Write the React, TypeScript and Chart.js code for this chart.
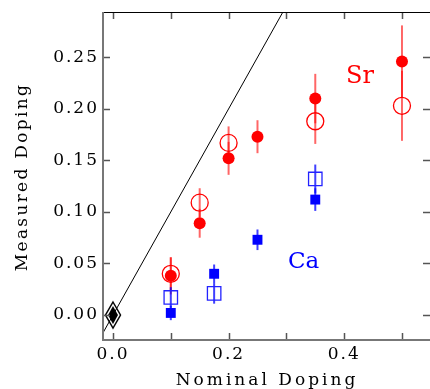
import React, { useEffect, useRef } from "react";
import { Chart, registerables } from "chart.js";

Chart.register(...registerables);

// ---- data ----
const srNominal = [0.1, 0.15, 0.2, 0.25, 0.35, 0.5];
const srFilled = [0.038, 0.089, 0.152, 0.173, 0.21, 0.246];
const srFilledErr = [0.018, 0.014, 0.016, 0.016, 0.024, 0.035];
const srOpenNominal = [0.1, 0.15, 0.2, 0.35, 0.5];
const srOpen = [0.04, 0.109, 0.167, 0.188, 0.203];
const srOpenErr = [0.016, 0.014, 0.016, 0.022, 0.034];

const caNominal = [0.1, 0.175, 0.25, 0.35];
const caFilled = [0.002, 0.04, 0.073, 0.112];
const caFilledErr = [0.007, 0.009, 0.01, 0.011];
const caOpenNominal = [0.1, 0.175, 0.35];
const caOpen = [0.017, 0.021, 0.132];
const caOpenErr = [0.01, 0.01, 0.014];

const refNominal = [0];
const refMeasured = [0];

const identityEnds = [-0.05, 0.4];

const xTickValues = [0, 0.1, 0.2, 0.3, 0.4, 0.5];
const xTickLabels = ["0.0", "", "0.2", "", "0.4", ""];
const yTickValues = [0, 0.05, 0.1, 0.15, 0.2, 0.25];
const yTickLabels = ["0.00", "0.05", "0.10", "0.15", "0.20", "0.25"];

const xTitle = "Nominal Doping";
const yTitle = "Measured Doping";
const srLabel = "Sr";
const caLabel = "Ca";

const SR = "#ff0000";
const CA = "#0000ff";
const FONT = "'DejaVu Serif', serif";

const pts = (xs: number[], ys: number[]) => xs.map((x, i) => ({ x, y: ys[i] }));

function makeDiamond(): HTMLCanvasElement {
  const c = document.createElement("canvas");
  c.width = 18;
  c.height = 30;
  const g = c.getContext("2d")!;
  const cx = 9, cy = 15;
  g.strokeStyle = "#000";
  g.lineWidth = 1.5;
  g.beginPath();
  g.moveTo(cx, cy - 13);
  g.lineTo(cx + 7.5, cy);
  g.lineTo(cx, cy + 13);
  g.lineTo(cx - 7.5, cy);
  g.closePath();
  g.stroke();
  g.fillStyle = "#000";
  g.beginPath();
  g.moveTo(cx, cy - 9);
  g.lineTo(cx + 5, cy);
  g.lineTo(cx, cy + 9);
  g.lineTo(cx - 5, cy);
  g.closePath();
  g.fill();
  return c;
}

const errorBarPlugin = {
  id: "errorBars",
  beforeDatasetsDraw(chart: any) {
    const { ctx, scales } = chart;
    const xs = scales.x, ys = scales.y;
    const draw = (nx: number[], vals: number[], errs: number[], color: string) => {
      nx.forEach((x, i) => {
        const px = xs.getPixelForValue(x);
        ctx.beginPath();
        ctx.moveTo(px, ys.getPixelForValue(vals[i] - errs[i]));
        ctx.lineTo(px, ys.getPixelForValue(vals[i] + errs[i]));
        ctx.strokeStyle = color;
        ctx.stroke();
      });
    };
    ctx.save();
    ctx.lineWidth = 2;
    draw(srNominal, srFilled, srFilledErr, "rgba(255,0,0,0.6)");
    draw(srOpenNominal, srOpen, srOpenErr, "rgba(255,0,0,0.6)");
    draw(caNominal, caFilled, caFilledErr, "rgba(0,0,255,0.75)");
    draw(caOpenNominal, caOpen, caOpenErr, "rgba(0,0,255,0.75)");
    ctx.restore();
  },
};

const framePlugin = {
  id: "frame",
  beforeDraw(chart: any) {
    (chart.ctx as any).letterSpacing = "2px";
  },
  afterDraw(chart: any) {
    const { ctx, chartArea, scales } = chart;
    const { left, top, right, bottom } = chartArea;
    ctx.save();
    // ticks
    ctx.strokeStyle = "#555";
    ctx.lineWidth = 1.5;
    xTickValues.forEach((v) => {
      const px = Math.round(scales.x.getPixelForValue(v)) + 0.5;
      ctx.beginPath();
      ctx.moveTo(px, bottom);
      ctx.lineTo(px, bottom - 7);
      ctx.moveTo(px, top);
      ctx.lineTo(px, top + 7);
      ctx.stroke();
    });
    yTickValues.forEach((v) => {
      const py = Math.round(scales.y.getPixelForValue(v)) + 0.5;
      ctx.beginPath();
      ctx.moveTo(left, py);
      ctx.lineTo(left + 7, py);
      ctx.moveTo(right, py);
      ctx.lineTo(right - 7, py);
      ctx.stroke();
    });
    // frame
    ctx.strokeStyle = "#000";
    ctx.lineWidth = 1;
    ctx.beginPath();
    ctx.moveTo(left, top + 0.5);
    ctx.lineTo(right, top + 0.5);
    ctx.stroke();
    ctx.strokeStyle = "#777";
    ctx.lineWidth = 2;
    ctx.beginPath();
    ctx.moveTo(left, top);
    ctx.lineTo(left, bottom);
    ctx.lineTo(right, bottom);
    ctx.stroke();

    // titles
    ctx.fillStyle = "#000";
    ctx.font = `17px ${FONT}`;
    (ctx as any).letterSpacing = "3px";
    ctx.textAlign = "center";
    ctx.textBaseline = "alphabetic";
    ctx.fillText(xTitle, 267, 385);
    (ctx as any).letterSpacing = "2.3px";
    ctx.save();
    ctx.translate(27, 177);
    ctx.rotate(-Math.PI / 2);
    ctx.fillText(yTitle, 0, 0);
    ctx.restore();

    // series labels
    (ctx as any).letterSpacing = "0px";
    ctx.textAlign = "left";
    ctx.font = `24px ${FONT}`;
    ctx.fillStyle = SR;
    ctx.fillText(srLabel, 346, 83);
    ctx.font = `23px ${FONT}`;
    ctx.fillStyle = CA;
    ctx.fillText(caLabel, 288, 268);
    ctx.restore();
  },
};

export default function App() {
  const ref = useRef<HTMLCanvasElement | null>(null);

  useEffect(() => {
    if (!ref.current) return;
    const diamond = makeDiamond();
    const chart = new Chart(ref.current, {
      type: "scatter",
      data: {
        datasets: [
          {
            data: pts(srNominal, srFilled),
            pointStyle: "circle",
            pointRadius: 6,
            pointBackgroundColor: SR,
            pointBorderWidth: 0,
            clip: false,
          } as any,
          {
            data: pts(srOpenNominal, srOpen),
            pointStyle: "circle",
            pointRadius: 8.5,
            pointBackgroundColor: "rgba(0,0,0,0)",
            pointBorderColor: SR,
            pointBorderWidth: 1.3,
            clip: false,
          },
          {
            data: pts(caNominal, caFilled),
            pointStyle: "rect",
            pointRadius: 7,
            pointBackgroundColor: CA,
            pointBorderWidth: 0,
            clip: false,
          },
          {
            data: pts(caOpenNominal, caOpen),
            pointStyle: "rect",
            pointRadius: 9.5,
            pointBackgroundColor: "rgba(0,0,0,0)",
            pointBorderColor: "#2222ff",
            pointBorderWidth: 1.3,
            clip: false,
          },
          {
            data: pts(refNominal, refMeasured),
            pointStyle: diamond,
            clip: false,
          },
          {
            type: "line",
            data: pts(identityEnds, identityEnds),
            borderColor: "#000",
            borderWidth: 1,
            pointRadius: 0,
            showLine: true,
            clip: 0,
          } as any,
        ],
      },
      options: {
        animation: false,
        responsive: false,
        events: [],
        layout: { autoPadding: false, padding: { left: 0, top: 12, right: 0, bottom: 0 } },
        plugins: { legend: { display: false }, tooltip: { enabled: false } },
        scales: {
          x: {
            type: "linear",
            min: -0.0173,
            max: 0.5485,
            grid: { display: false, drawTicks: false },
            border: { display: false },
            afterFit: (s: any) => {
              s.height = 49;
              s.paddingLeft = 0;
              s.paddingRight = 0;
            },
            afterBuildTicks: (s: any) => {
              s.ticks = xTickValues.map((v) => ({ value: v }));
            },
            ticks: {
              padding: 4,
              color: "#000",
              font: { family: FONT, size: 17 },
              maxRotation: 0,
              autoSkip: false,
              callback: (_v: any, i: number) => xTickLabels[i],
            },
          },
          y: {
            type: "linear",
            min: -0.02425,
            max: 0.294,
            grid: { display: false, drawTicks: false },
            border: { display: false },
            afterFit: (s: any) => {
              s.width = 103;
              s.paddingTop = 0;
              s.paddingBottom = 0;
            },
            afterBuildTicks: (s: any) => {
              s.ticks = yTickValues.map((v) => ({ value: v }));
            },
            ticks: {
              padding: 4,
              color: "#000",
              font: { family: FONT, size: 17 },
              autoSkip: false,
              callback: (_v: any, i: number) => yTickLabels[i],
            },
          },
        },
      },
      plugins: [errorBarPlugin, framePlugin],
    });
    return () => chart.destroy();
  }, []);

  return (
    <div style={{ position: "fixed", left: 0, top: 0, width: 430, height: 389, background: "#fff" }}>
      <canvas ref={ref} width={430} height={389} style={{ display: "block" }} />
    </div>
  );
}
